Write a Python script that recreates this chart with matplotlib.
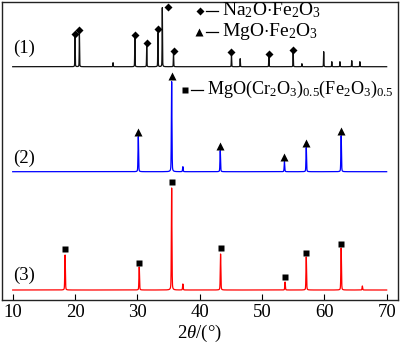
import numpy as np
import matplotlib
matplotlib.use("Agg")
import matplotlib.pyplot as plt

plt.rcParams['font.family'] = ['Liberation Serif', 'DejaVu Serif']
plt.rcParams['mathtext.fontset'] = 'custom'
plt.rcParams['mathtext.rm'] = 'Liberation Serif'
plt.rcParams['mathtext.it'] = 'Liberation Serif:italic'

# ---- data -------------------------------------------------------------
scan_start, scan_end = 10, 70
x_ticks = [10, 20, 30, 40, 50, 60, 70]

# pattern (1): reflection positions (2theta, deg) and intensities (a.u.)
p1_pos = [20.0, 20.7, 26.1, 29.6, 31.5, 33.3, 34.0, 35.8, 45.1, 46.5,
          51.1, 55.0, 56.4, 59.9, 61.2, 62.5, 64.4, 65.7]
p1_int = [30, 34, 4, 29, 20, 34, 59, 14, 12, 8,
          10, 14, 3, 15, 5, 5, 6, 5]
# pattern (2)
p2_pos = [30.15, 35.5, 37.3, 43.3, 53.6, 57.1, 62.7]
p2_int = [35, 90, 5, 21, 10, 24, 36]
# pattern (3)
p3_pos = [18.4, 30.3, 35.5, 37.3, 43.35, 53.7, 57.1, 62.7, 66.1]
p3_int = [35, 23, 102, 6, 36, 8, 33, 42, 4]

# phase tags: 2theta and height above the pattern's baseline
na_tag_pos = [20.0, 20.7, 29.6, 31.5, 33.3, 34.9, 35.8, 45.1, 51.1, 55.0]
na_tag_h = [33, 36.4, 31.7, 23.4, 37.4, 60, 16, 15, 12.4, 16.7]
mg_tag_pos = [30.15, 35.5, 43.3, 53.6, 57.1, 62.7]
mg_tag_h = [40, 95.7, 25.7, 14.4, 28.4, 40.7]
cr_tag_pos = [18.4, 30.3, 35.5, 43.4, 53.7, 57.1, 62.7]
cr_tag_h = [40.7, 27.3, 107.7, 41.7, 13.3, 37.3, 45.7]

# vertical offsets of the stacked patterns
offsets = [232.8, 127.8, 9.5]
labels = ['(1)', '(2)', '(3)']
colors = ['#111111', '#0000ff', '#ff0000']


def pattern(tt, pos, inten, fwhm, eta=0.3):
    y = np.zeros_like(tt)
    for p, a in zip(pos, inten):
        g = np.exp(-4 * np.log(2) * ((tt - p) / fwhm) ** 2)
        l = 1.0 / (1.0 + 4 * ((tt - p) / fwhm) ** 2)
        y += a * ((1 - eta) * g + eta * l)
    return y


tt = np.arange(scan_start, scan_end + 1e-9, 0.01)

fig = plt.figure(figsize=(4.0, 3.46), dpi=100)
ax = fig.add_axes([1.5 / 400, (346 - 299.5) / 346, 396 / 400, 298 / 346])

curves = [
    pattern(tt, p1_pos, p1_int, 0.07),
    pattern(tt, p2_pos, p2_int, 0.11),
    pattern(tt, p3_pos, p3_int, 0.11),
]
for yv, off, c in zip(curves, offsets, colors):
    ax.plot(tt, yv + off, color=c, lw=0.9)

ax.plot(na_tag_pos, np.array(na_tag_h) + offsets[0], ls='none', marker='D',
        ms=4.2, color='black', mec='none')
ax.plot(mg_tag_pos, np.array(mg_tag_h) + offsets[1], ls='none', marker='^',
        ms=6, color='black', mec='none')
ax.plot(cr_tag_pos, np.array(cr_tag_h) + offsets[2], ls='none', marker='s',
        ms=4.8, color='black', mec='none')

ax.set_xlim(8.2, 71.74)
ax.set_ylim(0, 298)

# pattern labels
for lab, yy in zip(labels, [251.5, 141.5, 24.5]):
    ax.text(11.85, yy, lab, fontsize=13.5, ha='center', va='center')


# phase legend drawn next to the patterns
def px(xp):
    return 10 + (xp - 12.7) / 6.233


def py(yp):
    return 299.5 - yp


legend_rows = [
    ('D', 4.2, 200, 11, 206.5, 218, 222.5, 14.0,
     r'Na$_2$O$\cdot$Fe$_2$O$_3$'),
    ('^', 6, 199.3, 32, 206.5, 218, 222.5, 14.0, r'MgO$\cdot$Fe$_2$O$_3$'),
    ('s', 4.8, 185, 90, 191, 203, 207.5, 13.1,
     r'MgO(Cr$_2$O$_3$)$_{0.5}$(Fe$_2$O$_3$)$_{0.5}$'),
]
for mk, ms, mx, my, d0, d1, tx, fs, txt in legend_rows:
    ax.plot([px(mx)], [py(my)], marker=mk, ms=ms, color='black', mec='none')
    ax.plot([px(d0), px(d1)], [py(my), py(my)], color='black', lw=0.9)
    ax.text(px(tx), py(my) + 1, txt, fontsize=fs, ha='left', va='center')

ax.set_xticks(x_ticks)
ax.set_yticks([])
ax.tick_params(axis='x', direction='in', length=4.3, width=0.8,
               labelsize=13.5, pad=3.5, top=False)
for sp in ax.spines.values():
    sp.set_linewidth(1.0)
    sp.set_color('#222222')

ax.set_xlabel(r'$2\theta$/(°)', fontsize=13.5, labelpad=1)

fig.savefig('out.png', dpi=100)
